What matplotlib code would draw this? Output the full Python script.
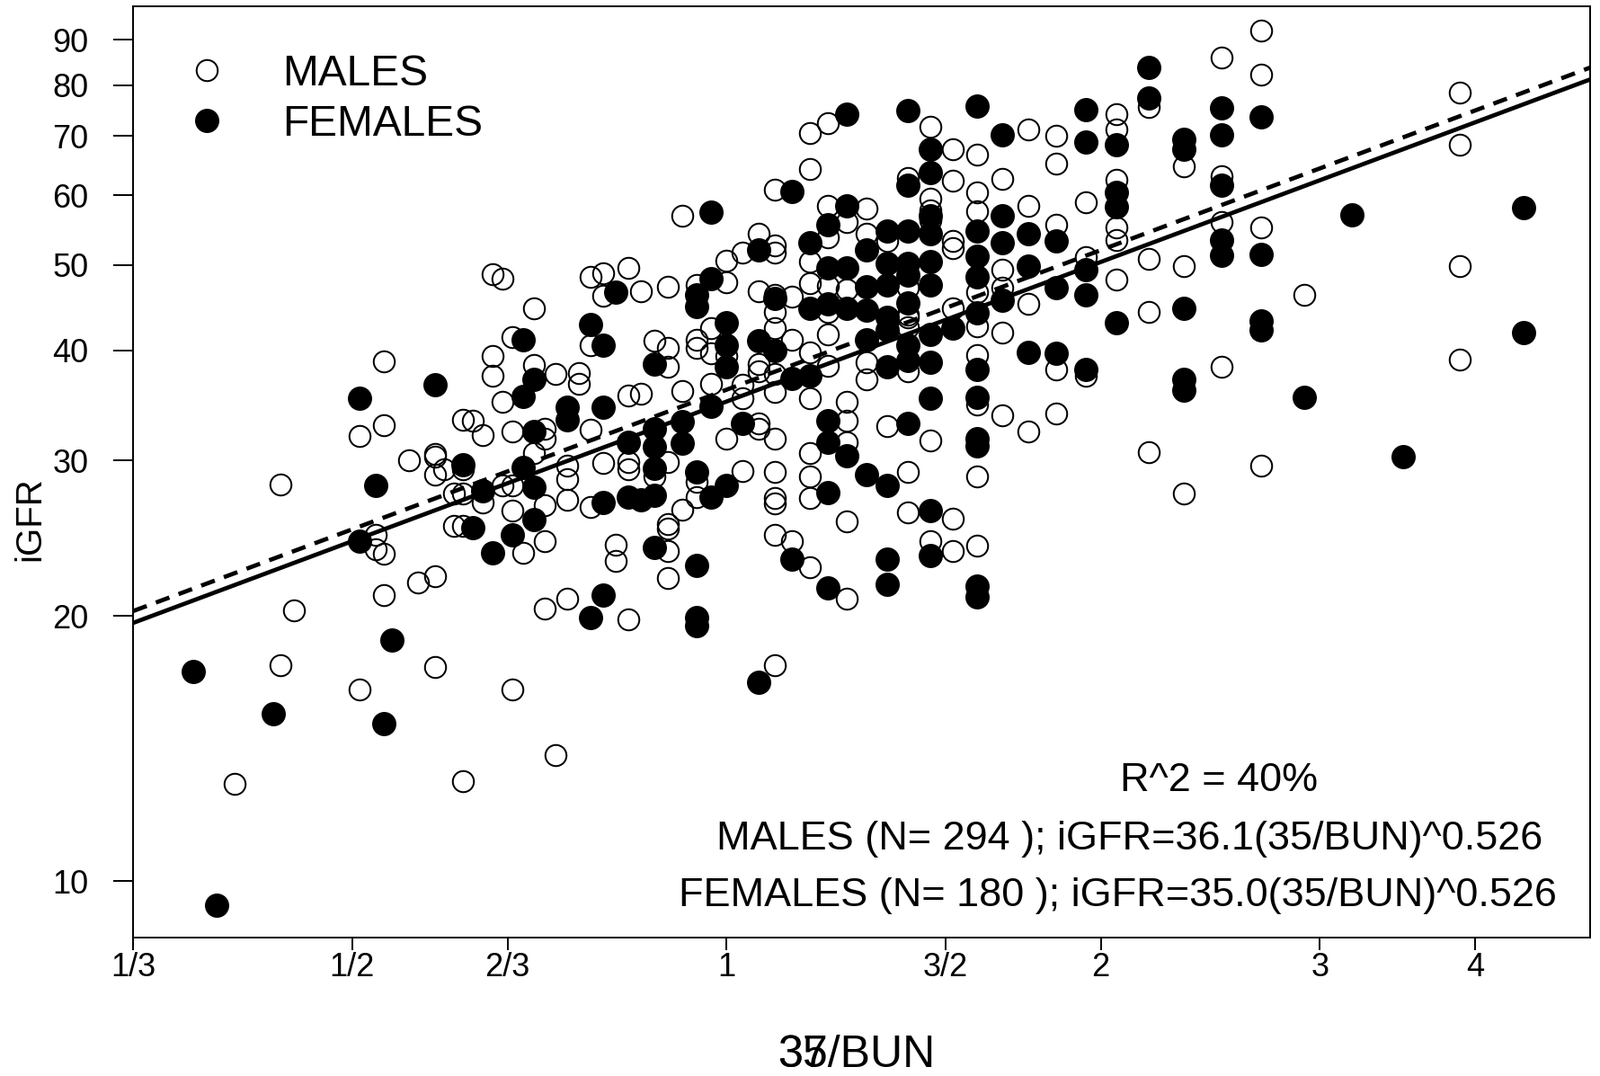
import matplotlib.pyplot as plt
import numpy as np

plt.rcParams['font.family'] = ['Liberation Sans', 'DejaVu Sans']

# males (open circles): BUN of each point and its iGFR
male_bun = [
    87, 80, 80, 78, 69, 69, 67, 67, 66, 66, 66, 66, 63, 62,
    60, 60, 60, 60, 60, 59, 58, 58, 57, 57, 57, 57, 57, 56, 55, 55,
    54, 54, 54, 53, 53, 53, 52, 52, 52, 52, 52, 51, 50, 50, 50,
    49, 49, 49, 49, 49, 48, 48, 47, 47, 47, 47, 46, 46,
    45, 45, 45, 45, 44, 44, 44, 43, 43, 42, 42, 42, 42, 42, 41, 41, 40, 40,
    39, 39, 39, 39, 39, 39, 39, 39, 38, 38, 38, 37, 37, 37, 37, 37,
    36, 36, 36, 35, 35, 35, 35, 34, 34, 34, 34,
    33, 33, 33, 33, 33, 33,
    32, 32, 32, 32, 32, 32, 32, 32, 32, 32, 32, 32, 32, 32,
    31, 31, 31,
    30, 30, 30, 30, 30, 30, 30, 30, 30, 30,
    29, 29, 29, 29, 29, 29, 29,
    28, 28, 28, 28, 28, 28, 28,
    27, 27, 27, 27, 26, 26,
    25, 25, 25, 25, 25, 25, 25, 25,
    24, 24, 24, 24, 24, 24,
    23, 23, 23, 23, 23, 23, 23,
    22, 22, 22, 22, 22, 22, 22, 22, 22,
    21, 21, 21, 21, 21,
    20, 20, 20, 20,
    19, 19, 19, 19, 19,
    18, 18, 18,
    17, 17, 17, 17, 17, 17,
    16, 16, 16, 16,
    15, 15, 15,
    14, 14, 14, 14,
    13, 13, 13, 13,
    12, 9, 9, 9, 9]
male_igfr = [
    12.9, 28.2, 17.6, 20.3, 32.0, 16.5, 24.7, 23.8, 38.9, 32.9, 23.5, 21.1, 30.0, 21.8,
    30.5, 30.3, 28.9, 22.2, 17.5, 29.3, 27.5, 25.3, 33.4, 29.3, 27.5, 25.3, 13.0, 33.3, 32.1, 26.9,
    48.8, 39.4, 37.4, 48.3, 35.0, 28.1, 41.4, 32.4, 28.1, 26.3, 16.5, 23.6, 44.7, 38.5, 30.6,
    32.6, 31.8, 26.7, 24.3, 20.4, 37.6, 13.9, 29.6, 28.6, 27.1, 20.9, 37.7, 36.7,
    48.5, 40.6, 32.5, 26.6, 48.9, 46.1, 29.8, 24.1, 23.1, 49.6, 35.6, 29.9, 29.3, 19.8, 46.7, 35.7, 41.0, 28.8,
    47.2, 40.3, 38.3, 29.9, 25.4, 25.1, 23.7, 22.1, 56.9, 36.0, 26.4, 47.5, 41.1, 40.3, 28.4, 27.3,
    42.4, 39.7, 36.7, 50.6, 47.8, 39.4, 31.8, 51.6, 36.6, 35.3, 29.2,
    54.2, 46.7, 38.6, 37.9, 33.1, 32.6,
    60.9, 52.6, 51.6, 46.2, 44.2, 42.4, 37.6, 35.9, 31.8, 29.1, 27.2, 26.8, 24.7, 17.6,
    46.0, 41.1, 24.3,
    70.6, 64.3, 50.5, 47.7, 39.8, 35.3, 30.6, 28.8, 27.2, 22.7,
    72.5, 58.4, 53.8, 47.3, 44.2, 41.7, 38.4,
    55.9, 46.9, 35.0, 33.3, 31.5, 25.6, 20.9,
    58.0, 54.2, 38.8, 37.1, 53.3, 32.8,
    62.7, 47.1, 43.9, 43.6, 42.5, 37.9, 29.1, 26.2,
    71.7, 59.5, 57.7, 56.2, 31.6, 24.3,
    67.6, 62.3, 53.3, 52.2, 44.7, 25.8, 23.7,
    66.7, 60.5, 57.5, 46.6, 42.6, 39.5, 34.7, 28.8, 24.0,
    62.6, 49.4, 47.1, 41.9, 33.8,
    71.3, 58.4, 45.2, 32.4,
    70.1, 65.2, 55.5, 38.1, 33.9,
    58.9, 51.0, 37.4,
    74.1, 71.3, 62.4, 55.1, 53.4, 48.1,
    75.5, 50.8, 44.2, 30.7,
    64.7, 49.9, 27.5,
    86.0, 63.0, 55.9, 38.3,
    92.2, 82.2, 55.1, 29.6,
    46.2, 78.4, 68.4, 49.9, 39.1]

# females (filled circles)
female_bun = [
    94, 90, 81, 69, 69, 67, 66, 65, 60, 57, 56, 55, 54, 52,
    51, 51, 51, 50, 50, 50, 50, 47, 47, 45, 45, 44, 44, 44, 44, 43, 42, 42, 41,
    40, 40, 40, 40, 40, 40, 38, 38, 37, 37, 37, 37, 37, 37,
    36, 36, 36, 36, 35, 35, 35, 35, 34, 33, 33, 33, 32, 32,
    31, 31, 31, 30, 30, 30, 29, 29, 29, 29, 29, 29, 29,
    28, 28, 28, 28, 28, 27, 27, 27, 27, 27,
    26, 26, 26, 26, 26, 26, 26, 26, 26,
    25, 25, 25, 25, 25, 25, 25, 25, 25,
    24, 24, 24, 24, 24, 24, 24, 24, 24, 24, 24,
    23, 22, 22, 22, 22, 22, 22, 22, 22, 22, 22, 22,
    21, 21, 21, 21, 20, 20, 20, 19, 19, 19,
    18, 18, 18, 18, 18, 17, 17, 17, 17, 16, 16,
    15, 15, 15, 15, 15, 14, 14, 14, 14, 14,
    13, 13, 13, 13, 12, 11, 10, 8, 8]
female_igfr = [
    17.3, 9.4, 15.5, 35.3, 24.3, 28.1, 15.1, 18.8, 36.6, 29.7, 25.2, 27.7, 23.6, 24.7,
    41.1, 35.5, 29.5, 37.1, 32.4, 28.0, 25.7, 34.5, 33.4, 42.8, 19.9, 40.6, 34.5, 26.9, 21.1, 46.6, 31.5, 27.3, 27.1,
    38.6, 32.6, 31.1, 29.4, 27.4, 23.9, 33.2, 31.4, 46.3, 44.9, 29.1, 22.8, 19.9, 19.5,
    57.4, 48.3, 34.6, 27.3, 43.0, 40.6, 38.3, 28.1, 33.1, 52.0, 41.0, 16.8, 45.8, 40.0,
    60.6, 37.2, 23.2, 53.0, 44.7, 37.4, 55.5, 49.6, 45.2, 33.3, 31.5, 27.6, 21.5,
    74.1, 58.3, 49.6, 44.6, 30.4, 52.0, 47.2, 44.4, 41.1, 28.9,
    54.7, 50.2, 47.5, 43.6, 42.2, 38.3, 28.1, 23.2, 21.7,
    74.9, 61.6, 54.7, 50.2, 48.7, 45.3, 40.6, 39.0, 33.1,
    67.6, 63.6, 56.9, 54.2, 50.5, 47.5, 41.7, 38.8, 35.3, 26.3, 23.4,
    42.4, 75.8, 54.7, 51.2, 48.5, 44.1, 38.1, 35.4, 31.8, 31.2, 21.6, 21.0,
    70.2, 56.9, 53.0, 45.6, 54.2, 49.9, 39.8, 53.2, 47.1, 39.7,
    75.0, 68.9, 49.4, 46.2, 38.1, 68.4, 60.5, 58.2, 43.0, 83.7, 77.3,
    69.4, 67.7, 44.7, 37.1, 36.1, 75.4, 70.3, 61.6, 53.4, 51.3,
    73.7, 51.4, 43.2, 42.2, 35.4, 57.0, 30.3, 58.1, 41.9]

# fitted power laws iGFR = a * (35/BUN)^b
male_coef = 36.1
female_coef = 35.0
exponent = 0.526
n_male = 294
n_female = 180
r2 = 40

xticks = [1/3, 1/2, 2/3, 1, 3/2, 2, 3, 4]
xtick_labels = ['1/3', '1/2', '2/3', '1', '3/2', '2', '3', '4']
yticks = [10, 20, 30, 40, 50, 60, 70, 80, 90]

x_male = 35 / np.array(male_bun)
x_female = 35 / np.array(female_bun)

fig = plt.figure(figsize=(17.81, 11.97), dpi=100)
ax = fig.add_axes([0.0832, 0.1289, 0.9101, 0.8654])
ax.set_xscale('log')
ax.set_yscale('log')
xlim = (1/3, 4.95)
ax.set_xlim(xlim)
ax.set_ylim(8.64, 98.3)

ax.plot(x_male, male_igfr, 'o', ls='none', ms=16.9, mfc='none', mec='black',
        mew=1.45, label='MALES', zorder=2)
ax.plot(x_female, female_igfr, 'o', ls='none', ms=18.4, mfc='black', mec='black',
        mew=1.0, label='FEMALES', zorder=3)

xs = np.geomspace(xlim[0], xlim[1], 100)
ax.plot(xs, male_coef * xs ** exponent, color='black', lw=3.4,
        linestyle=(0, (3.4, 2.3)), zorder=4)
ax.plot(xs, female_coef * xs ** exponent, color='black', lw=3.4,
        solid_capstyle='butt', zorder=4)

ax.xaxis.set_major_locator(plt.FixedLocator(xticks))
ax.xaxis.set_major_formatter(plt.FixedFormatter(xtick_labels))
ax.xaxis.set_minor_locator(plt.NullLocator())
ax.yaxis.set_major_locator(plt.FixedLocator(yticks))
ax.yaxis.set_major_formatter(plt.FixedFormatter([str(v) for v in yticks]))
ax.yaxis.set_minor_locator(plt.NullLocator())
ax.tick_params(axis='both', direction='out', width=1.4, labelsize=26)
ax.tick_params(axis='x', length=10, pad=1.5)
ax.tick_params(axis='y', length=15.5, pad=20.5)
for s in ax.spines.values():
    s.set_linewidth(1.4)

ax.legend(loc='upper left', bbox_to_anchor=(0.036, 0.949), frameon=False,
          fontsize=34.5, borderpad=0, borderaxespad=0, handlelength=1.0,
          handletextpad=1.24, labelspacing=0.24)

ax.text(0.7455, 0.1571, 'R^2 = %d%%' % r2, transform=ax.transAxes,
        ha='center', va='baseline', fontsize=32.4)
ax.text(0.6841, 0.0943,
        'MALES (N= %d ); iGFR=%.1f(35/BUN)^%.3f' % (n_male, male_coef, exponent),
        transform=ax.transAxes, ha='center', va='baseline', fontsize=32.4)
ax.text(0.6755, 0.0332,
        'FEMALES (N= %d ); iGFR=%.1f(35/BUN)^%.3f' % (n_female, female_coef, exponent),
        transform=ax.transAxes, ha='center', va='baseline', fontsize=32.4)

# axis titles (the x title has a second label printed over it)
fig.text(0.4857, 0.0085, '35/BUN', ha='left', va='baseline', fontsize=36)
fig.text(0.4857, 0.0085, '37', ha='left', va='baseline', fontsize=36)
fig.text(0.0185, 0.5175, 'iGFR', rotation=90, ha='center', va='center',
         fontsize=29)

fig.savefig('out.png', dpi=100)
